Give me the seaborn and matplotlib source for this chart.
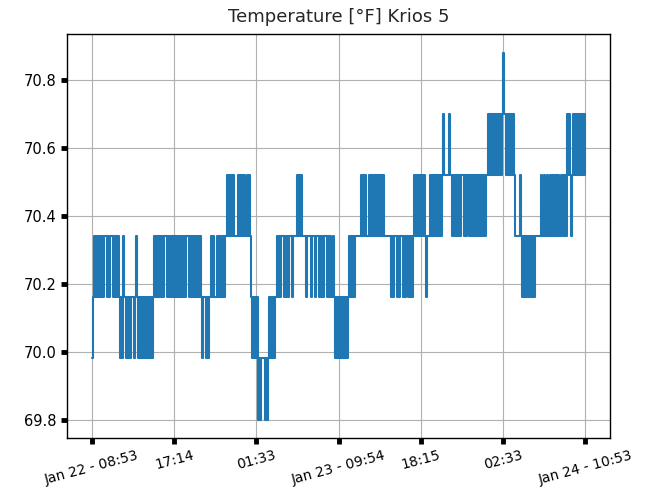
import numpy as np
import matplotlib
matplotlib.use("Agg")
import matplotlib.pyplot as plt
import seaborn as sns

TITLE = "Temperature [°F] Krios 5"

# Sensor resolution is 0.1 °C, so readings fall on these Fahrenheit levels
LEVELS_F = [69.8, 69.98, 70.16, 70.34, 70.52, 70.7, 70.88]

SPAN_HOURS = 50.0
TICK_LABELS = ["Jan 22 - 08:53", "17:14", "01:33", "Jan 23 - 09:54",
               "18:15", "02:33", "Jan 24 - 10:53"]
YTICKS = [69.8, 70.0, 70.2, 70.4, 70.6, 70.8]

# Logged readings as level codes (index into LEVELS_F), run-length encoded:
# each entry is (code pattern, number of repeats)
READING_RUNS = [
    ("1", 1),
    ("23", 6), ("3", 2), ("23", 2), ("3", 2), ("23", 3),
    ("21", 2), ("3", 1), ("2", 2), ("12", 3), ("2", 2), ("12", 1), ("3", 1), ("21", 8),
    ("23", 6), ("3", 2), ("23", 10), ("3", 2), ("23", 6),
    ("2", 1), ("1", 1), ("2", 3), ("1", 1), ("2", 1), ("1", 1), ("2", 2),
    ("32", 2), ("2", 2), ("32", 4), ("3", 2),
    ("43", 4), ("3", 3), ("43", 4), ("3", 1), ("43", 2),
    ("2", 1), ("12", 3), ("0", 1), ("1", 1), ("0", 1), ("1", 4), ("0", 1), ("1", 1), ("0", 1), ("12", 4),
    ("23", 3), ("3", 2), ("23", 3), ("3", 2), ("2", 1), ("3", 4),
    ("43", 3), ("3", 3), ("2", 1), ("3", 4), ("2", 1), ("3", 3), ("2", 1), ("3", 3),
    ("23", 3), ("3", 2), ("23", 2), ("2", 2), ("32", 1),
    ("12", 7), ("32", 3), ("3", 6),
    ("43", 3), ("3", 2), ("43", 8), ("3", 6),
    ("23", 2), ("3", 2), ("23", 2), ("3", 2), ("23", 2), ("3", 1), ("23", 3),
    ("43", 6), ("2", 1), ("3", 3), ("43", 6), ("4", 1), ("5", 1), ("4", 5), ("5", 1), ("4", 2),
    ("34", 5), ("4", 2), ("34", 2), ("4", 1), ("34", 9),
    ("45", 7), ("45", 1), ("6", 1), ("5", 2), ("45", 4), ("4", 1),
    ("3", 5), ("4", 1), ("3", 1), ("23", 7), ("3", 5),
    ("4", 1), ("3", 2), ("4", 1), ("3", 2), ("4", 1), ("3", 2), ("43", 5),
    ("3", 1), ("4", 1), ("3", 1), ("43", 2),
    ("54", 2), ("3", 1), ("45", 7),
]

codes = "".join(pattern * count for pattern, count in READING_RUNS)
temps = np.array([LEVELS_F[int(c)] for c in codes])
hours = np.linspace(0.0, SPAN_HOURS, len(temps))

sns.set_style("ticks", {
    "axes.grid": True,
    "grid.color": "#b0b0b0",
    "axes.edgecolor": "black",
    "xtick.color": "black",
    "ytick.color": "black",
})
plt.rcParams["font.family"] = ["DejaVu Sans"]

fig = plt.figure(figsize=(6.59, 4.93), dpi=100)
ax = fig.add_axes([0.1022, 0.1116, 0.823, 0.8185])

# each reading holds until the next one arrives
sns.lineplot(x=hours, y=temps, ax=ax, color="#1f77b4", linewidth=1.5,
             errorbar=None, sort=False, drawstyle="steps-post")

ax.margins(x=0.05, y=0.05)
ax.set_xticks(np.linspace(0.0, SPAN_HOURS, len(TICK_LABELS)))
ax.set_xticklabels(TICK_LABELS, rotation=15, ha="center")
ax.set_yticks(YTICKS)
ax.set_yticklabels([f"{v:.1f}" for v in YTICKS])
ax.tick_params(direction="out", length=4, width=3.5, color="black",
               labelsize=10, labelcolor="black")
ax.tick_params(axis="y", labelsize=10.5)
ax.grid(True, color="#b0b0b0", linewidth=0.8)
for side in ax.spines.values():
    side.set_visible(True)
    side.set_color("black")
    side.set_linewidth(1.0)
ax.set_xlabel("")
ax.set_ylabel("")
ax.set_title(TITLE, fontsize=13, pad=9)

fig.savefig("out.png", dpi=100)
